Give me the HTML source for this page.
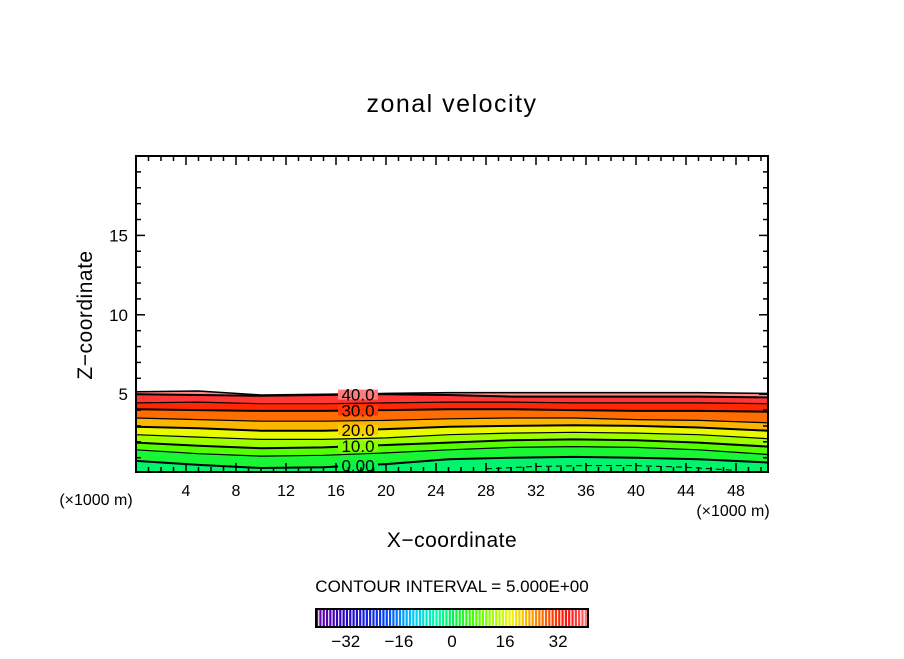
<!DOCTYPE html>
<html><head><meta charset="utf-8"><style>
body{margin:0;background:#fff;width:904px;height:654px;overflow:hidden}
text{font-family:"Liberation Sans",sans-serif;fill:#000}
</style></head><body>
<svg id="c" width="904" height="654" xmlns="http://www.w3.org/2000/svg">
<text x="452" y="112" font-size="25" text-anchor="middle" letter-spacing="1.5">zonal velocity</text>
<text transform="translate(92,315) rotate(-90)" font-size="21" text-anchor="middle" letter-spacing="0.5">Z−coordinate</text>
<text x="452" y="547" font-size="21" text-anchor="middle" letter-spacing="0.5">X−coordinate</text>
<text x="96" y="505" font-size="16" text-anchor="middle">(×1000 m)</text>
<text x="733" y="516" font-size="16" text-anchor="middle">(×1000 m)</text>
<text x="452" y="592" font-size="17" text-anchor="middle">CONTOUR INTERVAL = 5.000E+00</text>
<g id="plot"></g>
<g id="cbar"></g>
</svg>
<script>
const xs=[0,5,10,15,20,25,30,35,40,45,50.6];
const levels=[0,5,10,15,20,25,30,35,40];
const lvl0=[0.8,0.55,0.35,0.4,0.6,0.9,1.0,1.05,1.0,0.9,0.7];
const lvl5=[1.5,1.25,1.1,1.15,1.3,1.5,1.65,1.7,1.65,1.5,1.2];
const lvl10=[1.95,1.75,1.6,1.65,1.8,1.95,2.1,2.15,2.1,1.95,1.7];
const lvl15=[2.45,2.3,2.15,2.15,2.25,2.45,2.55,2.6,2.55,2.45,2.2];
const lvl20=[2.95,2.85,2.7,2.7,2.8,2.95,3.0,3.05,3.0,2.9,2.7];
const lvl25=[3.5,3.4,3.3,3.3,3.35,3.45,3.5,3.5,3.4,3.35,3.2];
const lvl30=[4.05,4.0,3.95,3.95,4.0,4.05,4.05,4.0,3.95,3.95,3.9];
const lvl35=[4.45,4.5,4.4,4.4,4.45,4.5,4.5,4.45,4.45,4.45,4.4];
const lvl40=[5.0,4.95,4.9,4.95,5.0,4.95,4.85,4.85,4.85,4.85,4.8];
const topZ=[5.15,5.2,4.95,5.0,5.05,5.1,5.1,5.1,5.1,5.1,5.05];
const negXs=[28,32,36,40,44,48];
const negZ=[0.3,0.45,0.5,0.5,0.4,0.2];
const xTicks=[4,8,12,16,20,24,28,32,36,40,44,48];
const yTicks=[5,10,15];
const cbTicks=[-32,-16,0,16,32];
const labelLevels=[0,10,20,30,40];

const X0=136,X1=768,Y0=472,Y1=156,XMAX=50.56,ZMIN=0.1,ZMAX=20;
const sx=v=>X0+(Math.min(v,XMAX)/XMAX)*(X1-X0);
const sy=z=>Y0-(z-ZMIN)/(ZMAX-ZMIN)*(Y0-Y1);
const NS="http://www.w3.org/2000/svg";
function mk(t,a,p){const e=document.createElementNS(NS,t);for(const k in a)e.setAttribute(k,a[k]);p.appendChild(e);return e;}
const stops=[[-42,[120,0,160]],[-32,[40,0,200]],[-20,[0,60,255]],[-12,[0,200,255]],[-4,[0,255,160]],[0,[0,240,90]],[6,[60,255,0]],[12,[150,255,0]],[18,[240,250,0]],[24,[255,160,0]],[30,[255,70,0]],[35,[255,10,10]],[40,[255,100,100]],[43,[255,170,170]]];
function col(v){for(let i=0;i<stops.length-1;i++){const[a,ca]=stops[i],[b,cb]=stops[i+1];if(v<=b){const t=Math.max(0,(v-a)/(b-a));return `rgb(${ca.map((c,j)=>Math.round(c+(cb[j]-c)*t)).join(',')})`;}}return 'rgb(255,170,170)';}
const plot=document.getElementById('plot');
const lines=[lvl0,lvl5,lvl10,lvl15,lvl20,lvl25,lvl30,lvl35,lvl40];
const bottom=xs.map(()=>ZMIN);
const bounds=[bottom,...lines,topZ];
const bandVals=[-1,2.5,7.5,12.5,17.5,22.5,27.5,32.5,37.5,41.5];
function pts(arr){return xs.map((x,i)=>`${sx(x).toFixed(1)},${sy(arr[i]).toFixed(1)}`);}
for(let b=0;b<bounds.length-1;b++){
  const lo=pts(bounds[b]),hi=pts(bounds[b+1]).reverse();
  const p=mk('polygon',{points:lo.concat(hi).join(' '),fill:col(bandVals[b]),stroke:col(bandVals[b]),'stroke-width':0.5},plot);
  
  
}
lines.forEach((arr,i)=>{
  const l=mk('polyline',{points:pts(arr).join(' '),fill:'none',stroke:'#000','stroke-width':levels[i]%10===0?2:1.2},plot);
  
  
});
const topLine=mk('polyline',{points:pts(topZ).join(' '),fill:'none',stroke:'#000','stroke-width':1.5},plot);


const neg=mk('polyline',{points:negXs.map((x,i)=>`${sx(x)},${sy(negZ[i])}`).join(' '),fill:'none',stroke:'#000','stroke-width':1,'stroke-dasharray':'6,4'},plot);


labelLevels.forEach(v=>{
  const i=levels.indexOf(v);const arr=lines[i];
  const z=arr[3]+(arr[4]-arr[3])*0.5;const y=sy(z);
  mk('rect',{x:338,y:y-5,width:40,height:10,fill:col(v===0?1:v+1)},plot);
  const t=mk('text',{x:358,y:y+6,'font-size':17,'text-anchor':'middle'},plot);
  t.textContent=v===0?'0.00':v.toFixed(1);
  
  
});
const fr=mk('rect',{x:X0,y:Y1,width:X1-X0,height:Y0-Y1,fill:'none',stroke:'#000','stroke-width':2},plot);


for(let v=1;v<=50;v++){const x=sx(v);const L=v%4===0?9:5;mk('line',{x1:x,x2:x,y1:Y0,y2:Y0-L,stroke:'#000','stroke-width':1.5},plot);mk('line',{x1:x,x2:x,y1:Y1,y2:Y1+L,stroke:'#000','stroke-width':1.5},plot);}
for(let v=1;v<=19;v++){const y=sy(v);const L=v%5===0?9:5;mk('line',{x1:X0,x2:X0+L,y1:y,y2:y,stroke:'#000','stroke-width':1.5},plot);mk('line',{x1:X1,x2:X1-L,y1:y,y2:y,stroke:'#000','stroke-width':1.5},plot);}
xTicks.forEach(v=>{const t=mk('text',{x:sx(v),y:496,'font-size':16,'text-anchor':'middle'},plot);t.textContent=v;

});
yTicks.forEach(v=>{const t=mk('text',{x:128,y:sy(v)+6,'font-size':17,'text-anchor':'end'},plot);t.textContent=v;

});
const cb=document.getElementById('cbar');
const CB0=316,CB1=588,CMIN=-41,CMAX=41;
const cx=v=>CB0+(v-CMIN)/(CMAX-CMIN)*(CB1-CB0);
mk('rect',{x:CB0,y:609,width:CB1-CB0,height:18,fill:'#fff'},cb);
for(let v=CMIN;v<CMAX;v+=1){
  const r=mk('rect',{x:cx(v),y:609,width:2.2,height:18,fill:col(v+0.5)},cb);
  
  
}
const cbf=mk('rect',{x:CB0,y:609,width:CB1-CB0,height:18,fill:'none',stroke:'#000','stroke-width':2},cb);


cbTicks.forEach(v=>{const t=mk('text',{x:cx(v),y:647,'font-size':17,'text-anchor':'middle'},cb);t.textContent=v<0?'−'+(-v):v;

});
</script>
</body></html>
